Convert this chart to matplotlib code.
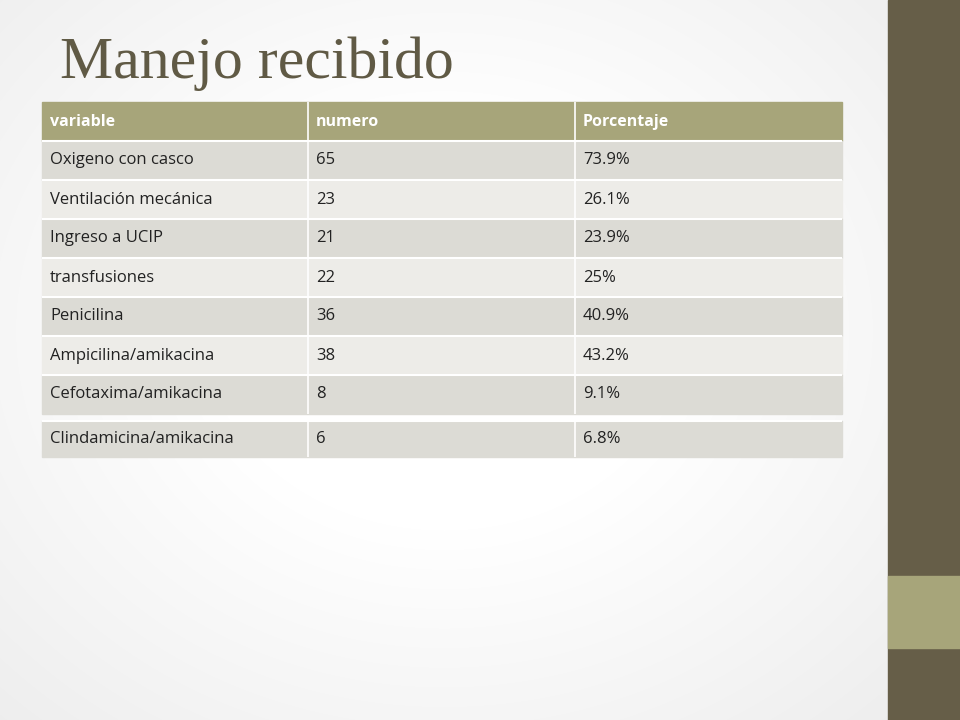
import matplotlib
matplotlib.use("Agg")
import matplotlib.pyplot as plt
from matplotlib.patches import Rectangle
import numpy as np

title = "Manejo recibido"
headers = ["variable", "numero", "Porcentaje"]
variables = ["Oxigeno con casco", "Ventilación mecánica", "Ingreso a UCIP", "transfusiones",
             "Penicilina", "Ampicilina/amikacina", "Cefotaxima/amikacina", "Clindamicina/amikacina"]
numeros = ["65", "23", "21", "22", "36", "38", "8", "6"]
porcentajes = ["73.9%", "26.1%", "23.9%", "25%", "40.9%", "43.2%", "9.1%", "6.8%"]

fig = plt.figure(figsize=(9.6, 7.2), dpi=100)
ax = fig.add_axes([0, 0, 1, 1])
ax.set_xlim(0, 960); ax.set_ylim(720, 0); ax.axis("off")

yy, xx = np.mgrid[0:720, 0:888]
r = np.sqrt(((xx - 444) / 600) ** 2 + ((yy - 330) / 500) ** 2)
v = np.clip(1.0 - 0.10 * np.clip(r - 0.4, 0, None), 0.9, 1.0)
ax.imshow(np.dstack([v, v, v]), extent=(0, 888, 720, 0), aspect="auto", zorder=0)

ax.add_patch(Rectangle((888, 0), 72, 720, color="#665E48", zorder=1))
ax.add_patch(Rectangle((888, 576), 72, 72, color="#A7A57A", zorder=2))

ax.text(60, 64, title, fontsize=43, family="Liberation Serif", color="#605A45", va="center", ha="left")

cols = [42, 308, 575, 842]
fam = "Open Sans"
ax.add_patch(Rectangle((42, 102), 800, 39, color="#A7A57A", zorder=2))
for j, h in enumerate(headers):
    ax.text(cols[j] + 8, 121.5, h, color="white", fontsize=11.5, weight="bold", family=fam, va="center", zorder=4)
ax.vlines(cols[1:3], 102, 141, color="white", lw=1.2, zorder=3)

for i, (a, b, c) in enumerate(zip(variables, numeros, porcentajes)):
    if i < 7:
        y0 = 141 + 39 * i; h = 39
        col = "#DCDBD5" if i % 2 == 0 else "#EDECE8"
    else:
        y0 = 421; h = 36; col = "#DCDBD5"
    ax.add_patch(Rectangle((42, y0), 800, h, color=col, zorder=2))
    ax.hlines([y0], 42, 842, color="white", lw=1.5, zorder=3)
    ax.vlines(cols[1:3], y0, y0 + h, color="white", lw=1.2, zorder=3)
    for j, t in enumerate([a, b, c]):
        ax.text(cols[j] + 8, y0 + h / 2, t, color="#222222", fontsize=12, family=fam, va="center", zorder=4)

fig.savefig("out.png", dpi=100)
